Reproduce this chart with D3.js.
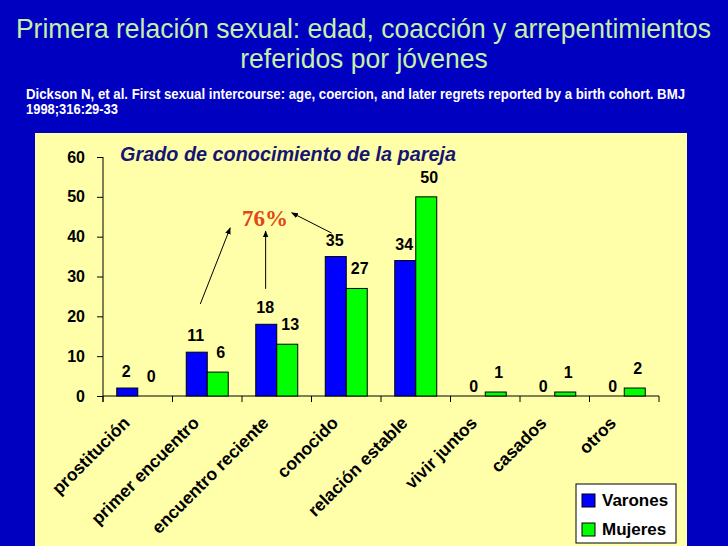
<!DOCTYPE html>
<html>
<head>
<meta charset="utf-8">
<script src="https://cdn.jsdelivr.net/npm/d3@7"></script>
<style>
  html, body { margin: 0; padding: 0; background: #0000C0; }
  svg { display: block; }
</style>
</head>
<body>
<svg id="chart" width="728" height="546"></svg>
<script>
// ---- data ----
const categories = ["prostitución", "primer encuentro", "encuentro reciente", "conocido",
                    "relación estable", "vivir juntos", "casados", "otros"];
const seriesNames = ["Varones", "Mujeres"];
const varones = [2, 11, 18, 35, 34, 0, 0, 0];
const mujeres = [0, 6, 13, 27, 50, 1, 1, 2];
const yTicks = [0, 10, 20, 30, 40, 50, 60];
const titleLines = ["Primera relación sexual: edad, coacción y arrepentimientos", "referidos por jóvenes"];
const sourceLines = ["Dickson N, et al. First sexual intercourse: age, coercion, and later regrets reported by a birth cohort. BMJ", "1998;316:29-33"];
const chartTitle = "Grado de conocimiento de la pareja";
const annotationText = "76%";

const svg = d3.select("#chart");
const W = 728, H = 546;
const SANS = "Liberation Sans, Arial, sans-serif";

// background
svg.append("rect").attr("width", W).attr("height", H).attr("fill", "#0000C0");

// titles (slightly condensed, as in the original slide)
svg.append("g").attr("transform", "translate(363.5,38) scale(0.947,1)")
  .append("text").attr("x", 0).attr("y", 0).attr("text-anchor", "middle")
  .attr("font-family", SANS).attr("font-size", 28).attr("fill", "#C6F0A8").text(titleLines[0]);
svg.append("g").attr("transform", "translate(364,68) scale(0.947,1)")
  .append("text").attr("x", 0).attr("y", 0).attr("text-anchor", "middle")
  .attr("font-family", SANS).attr("font-size", 28).attr("fill", "#C6F0A8").text(titleLines[1]);
svg.append("text").attr("x", 26).attr("y", 99)
  .attr("font-family", SANS).attr("font-weight", "bold")
  .attr("font-size", 14).attr("fill", "#FFFFFF")
  .attr("textLength", 659).attr("lengthAdjust", "spacingAndGlyphs").text(sourceLines[0]);
svg.append("text").attr("x", 26).attr("y", 114)
  .attr("font-family", SANS).attr("font-weight", "bold")
  .attr("font-size", 14).attr("fill", "#FFFFFF")
  .attr("textLength", 92).attr("lengthAdjust", "spacingAndGlyphs").text(sourceLines[1]);

// panel
svg.append("rect").attr("x", 35).attr("y", 133).attr("width", 652).attr("height", 413).attr("fill", "#FFFFAA");

// scales
const x = d3.scaleBand().domain(categories).range([103, 659]).padding(0);
const bw = x.bandwidth();
const xs = d3.scaleBand().domain(seriesNames).range([bw * 0.198, bw * 0.802]).padding(0);
const y = d3.scaleLinear().domain([0, 60]).range([396, 157]);
const color = d3.scaleOrdinal().domain(seriesNames).range(["#0000FF", "#00FF00"]);

// y axis
const yAxis = svg.append("g").attr("transform", "translate(103,0)")
  .call(d3.axisLeft(y).tickValues(yTicks).tickSize(6).tickPadding(12).tickFormat(d3.format("d")));
yAxis.select(".domain").attr("d", `M0,${y(60)}V${y(0) + 6}`).attr("stroke", "#000");
yAxis.selectAll(".tick line").attr("stroke", "#000");
yAxis.selectAll("text").attr("font-family", SANS)
  .attr("font-weight", "bold").attr("font-size", 16).attr("fill", "#000");

// x axis line + boundary ticks
const bounds = categories.map(c => x(c)).concat([x.range()[1]]);
svg.append("line").attr("x1", 103).attr("x2", 659).attr("y1", y(0)).attr("y2", y(0))
  .attr("stroke", "#000");
svg.selectAll(".xtick").data(bounds).join("line").attr("class", "xtick")
  .attr("x1", d => d).attr("x2", d => d).attr("y1", y(0)).attr("y2", y(0) + 6)
  .attr("stroke", "#000");

// bars
const rows = categories.map((c, i) => ({c, vals: [
  {s: "Varones", v: varones[i]}, {s: "Mujeres", v: mujeres[i]}]}));
const groups = svg.selectAll(".grp").data(rows).join("g").attr("class", "grp")
  .attr("transform", d => `translate(${x(d.c)},0)`);
groups.selectAll("rect").data(d => d.vals.filter(e => e.v > 0)).join("rect")
  .attr("x", d => xs(d.s)).attr("width", xs.bandwidth())
  .attr("y", d => y(d.v)).attr("height", d => y(0) - y(d.v))
  .attr("fill", d => color(d.s)).attr("stroke", "#000").attr("stroke-width", 1);
groups.selectAll("text").data(d => d.vals).join("text")
  .attr("x", d => xs(d.s) + xs.bandwidth() / 2 + (d.s === "Varones" ? -1 : 3))
  .attr("y", d => y(d.v) - (d.s === "Varones" ? (d.v === 0 ? 4 : 11) : 14))
  .attr("text-anchor", "middle")
  .attr("font-family", SANS).attr("font-weight", "bold")
  .attr("font-size", 16).attr("fill", "#000").text(d => d.v);

// category labels
svg.selectAll(".cat").data(categories).join("text").attr("class", "cat")
  .attr("transform", d => `translate(${x(d) + bw / 2 - 7},${y(0) + 28}) rotate(-45)`)
  .attr("text-anchor", "end")
  .attr("font-family", SANS).attr("font-weight", "bold")
  .attr("font-size", 17.5).attr("fill", "#000").text(d => d);

// chart title
svg.append("text").attr("x", 120).attr("y", 161)
  .attr("font-family", SANS).attr("font-weight", "bold")
  .attr("font-style", "italic").attr("font-size", 19.5).attr("fill", "#161670")
  .attr("textLength", 336).attr("lengthAdjust", "spacingAndGlyphs").text(chartTitle);

// annotation: 76% with arrows (positioned in data space)
const px = (cat, f) => x(cat) + f * bw;
svg.append("text").attr("x", px("encuentro reciente", 0.33)).attr("y", y(42.7))
  .attr("text-anchor", "middle")
  .attr("font-family", "Liberation Serif, Times New Roman, serif").attr("font-weight", "bold")
  .attr("font-size", 23).attr("fill", "#E04818").text(annotationText);

const defs = svg.append("defs");
defs.append("marker").attr("id", "ah").attr("viewBox", "0 0 10 10")
  .attr("refX", 9).attr("refY", 5).attr("markerWidth", 7).attr("markerHeight", 7)
  .attr("markerUnits", "userSpaceOnUse").attr("orient", "auto")
  .append("path").attr("d", "M0,1 L10,5 L0,9 Z").attr("fill", "#000");

const arrows = [
  {from: ["primer encuentro", 0.40, 23.1], to: ["primer encuentro", 0.83, 42.2]},
  {from: ["encuentro reciente", 0.34, 26.9], to: ["encuentro reciente", 0.34, 41.4]},
  {from: ["conocido", 0.29, 40.9], to: ["encuentro reciente", 0.715, 46.0]}
];
svg.selectAll(".arr").data(arrows).join("line").attr("class", "arr")
  .attr("x1", d => px(d.from[0], d.from[1])).attr("y1", d => y(d.from[2]))
  .attr("x2", d => px(d.to[0], d.to[1])).attr("y2", d => y(d.to[2]))
  .attr("stroke", "#000").attr("stroke-width", 1).attr("marker-end", "url(#ah)");

// legend
const lg = svg.append("g").attr("transform", "translate(576,484)");
lg.append("rect").attr("width", 100).attr("height", 59).attr("fill", "#FFFFFF").attr("stroke", "#000");
seriesNames.forEach((s, i) => {
  lg.append("rect").attr("x", 6).attr("y", 10 + i * 29).attr("width", 13).attr("height", 13)
    .attr("fill", color(s)).attr("stroke", "#000");
  lg.append("text").attr("x", 26).attr("y", 22 + i * 29)
    .attr("font-family", SANS).attr("font-weight", "bold")
    .attr("font-size", 17).attr("fill", "#000").text(s);
});
</script>
</body>
</html>
